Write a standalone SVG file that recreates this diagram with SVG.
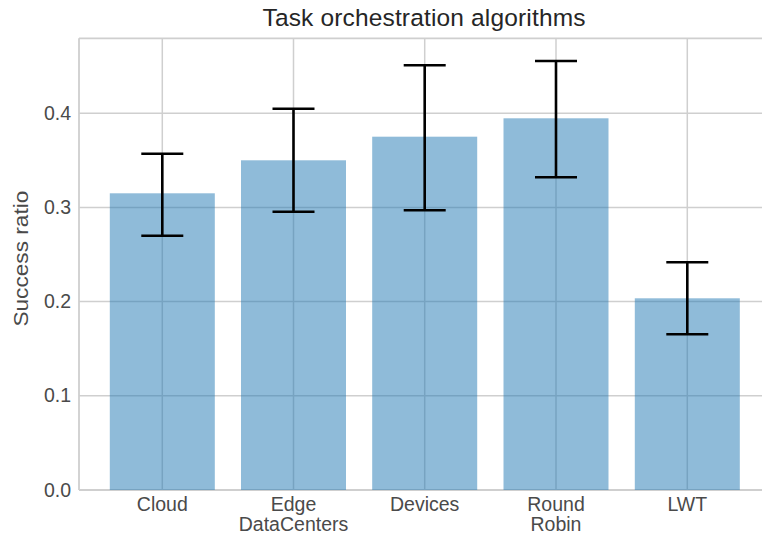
<svg xmlns="http://www.w3.org/2000/svg" width="762" height="537" viewBox="0 0 762 537">
<style>
.grid{stroke:#cfcfcf;stroke-width:1.5;fill:none}
.spine{stroke:#cfcfcf;stroke-width:1.8;fill:none}
.bar{fill:#1f77b4;fill-opacity:0.5}
.err{stroke:#000;stroke-width:2.6;fill:none}
.tick{font-family:"Liberation Sans",Arial,sans-serif;font-size:19.5px;fill:#4a4a4a}
.xt{text-anchor:middle}
.yt{text-anchor:end}
.title{font-family:"Liberation Sans",Arial,sans-serif;font-size:24.5px;fill:#262626;text-anchor:middle}
</style>
<rect width="762" height="537" fill="#fff"/>
<g id="grid">
<line class="grid" x1="79" y1="113.3" x2="762" y2="113.3"/>
<line class="grid" x1="79" y1="207.5" x2="762" y2="207.5"/>
<line class="grid" x1="79" y1="301.6" x2="762" y2="301.6"/>
<line class="grid" x1="79" y1="395.8" x2="762" y2="395.8"/>
<line class="grid" x1="162.3" y1="38.3" x2="162.3" y2="490"/>
<line class="grid" x1="293.5" y1="38.3" x2="293.5" y2="490"/>
<line class="grid" x1="424.7" y1="38.3" x2="424.7" y2="490"/>
<line class="grid" x1="556" y1="38.3" x2="556" y2="490"/>
<line class="grid" x1="687.3" y1="38.3" x2="687.3" y2="490"/>
<line class="spine" x1="79" y1="38.3" x2="762" y2="38.3"/>
<line class="spine" x1="79" y1="38.3" x2="79" y2="490"/>
<line class="spine" x1="79" y1="490" x2="762" y2="490"/>
</g>
<g id="bar-cloud"><rect class="bar" x="109.8" y="193.3" width="105" height="296.7"/></g>
<g id="bar-edge"><rect class="bar" x="241" y="160.3" width="105" height="329.7"/></g>
<g id="bar-devices"><rect class="bar" x="372.2" y="136.7" width="105" height="353.3"/></g>
<g id="bar-roundrobin"><rect class="bar" x="503.5" y="118.3" width="105" height="371.7"/></g>
<g id="bar-lwt"><rect class="bar" x="634.8" y="298.3" width="105" height="191.7"/></g>
<g id="errorbars">
<path class="err" d="M162.3 153.7V235.7M141.3 153.7H183.3M141.3 235.7H183.3"/>
<path class="err" d="M293.5 108.7V211.7M272.5 108.7H314.5M272.5 211.7H314.5"/>
<path class="err" d="M424.7 65.3V210.3M403.7 65.3H445.7M403.7 210.3H445.7"/>
<path class="err" d="M556 61V177.3M535 61H577M535 177.3H577"/>
<path class="err" d="M687.3 262.3V334.3M666.3 262.3H708.3M666.3 334.3H708.3"/>
</g>
<g id="yticks" class="tick yt">
<text x="71" y="120">0.4</text>
<text x="71" y="214">0.3</text>
<text x="71" y="308">0.2</text>
<text x="71" y="402.3">0.1</text>
<text x="71" y="496.5">0.0</text>
</g>
<g id="xticks" class="tick xt">
<text x="162.3" y="510.7">Cloud</text>
<text x="293.5" y="510.7">Edge</text>
<text x="293.5" y="530.7">DataCenters</text>
<text x="424.7" y="510.7">Devices</text>
<text x="556" y="510.7">Round</text>
<text x="556" y="530.7">Robin</text>
<text x="687.3" y="510.7">LWT</text>
</g>
<text class="tick xt" transform="translate(27.5 258.6) rotate(-90)" font-size="21" style="font-size:21px" textLength="136" lengthAdjust="spacingAndGlyphs">Success ratio</text>
<text class="title" x="424" y="26" textLength="323" lengthAdjust="spacing">Task orchestration algorithms</text>
</svg>
